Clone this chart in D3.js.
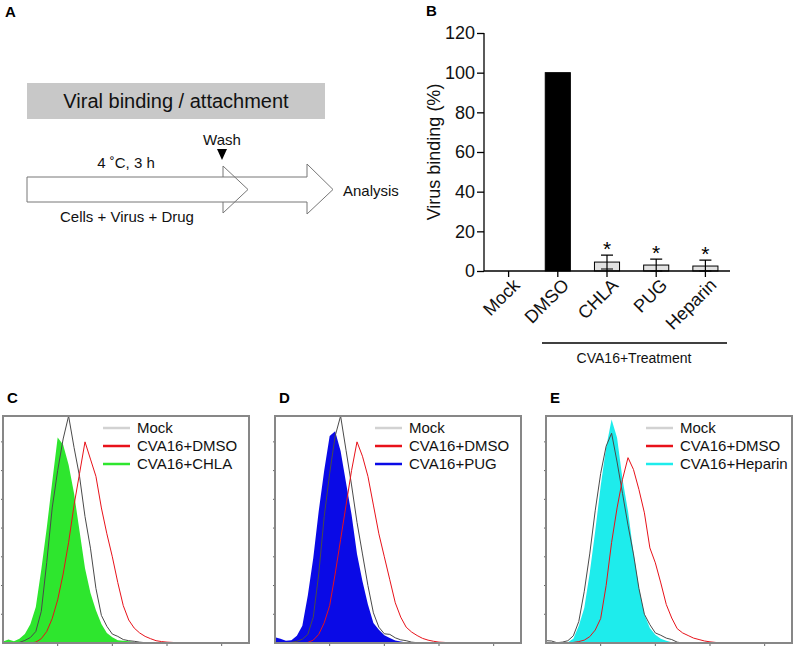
<!doctype html>
<html>
<head>
<meta charset="utf-8">
<style>
body { margin: 0; background: #fff; }
svg { font-family: Arial, "Liberation Sans", sans-serif; }
</style>
<script src="https://d3js.org/d3.v7.min.js"></script>
</head>
<body>
<svg width="800" height="649"></svg>
<script>
// ---- panel B data ----
var groups = ["Mock", "DMSO", "CHLA", "PUG", "Heparin"];
var binding = [0, 100, 4.5, 3, 2.5];
var bindingErr = [0, 0, 3.5, 3, 3];
var starred = [false, false, true, true, true];
var yTicks = [0, 20, 40, 60, 80, 100, 120];

// ---- panels C-E: histogram bins (log10 fluorescence) and counts ----
var logBins = [0, 0.1, 0.2, 0.3, 0.4, 0.5, 0.6, 0.7, 0.8, 0.9,
               1, 1.1, 1.2, 1.3, 1.4, 1.5, 1.6, 1.7, 1.8, 1.9,
               2, 2.1, 2.2, 2.3, 2.4, 2.5, 2.6, 2.7, 2.8, 2.9,
               3, 3.1, 3.2, 3.3, 3.4, 3.5, 3.6, 3.7, 3.8, 3.9,
               4, 4.1, 4.2, 4.3, 4.4, 4.5];
var histTicks = [1, 2, 3, 4];
var countTicks = [10, 20, 30, 40, 50, 60, 70];

var mockC = [0, 0, 0, 0.2, 0.9, 1.9, 4, 11, 28, 47, 60, 71, 79, 68, 58, 44, 33, 19, 9.6, 5.8,
             3.1, 2.3, 1.2, 0.8, 0.6, 0.3, 0.1, 0, 0, 0, 0, 0, 0, 0, 0, 0, 0, 0, 0, 0, 0, 0, 0, 0, 0, 0];
var dmsoC = [0, 0, 0, 0, 0, 0, 0.3, 1.5, 4, 8.5, 15, 24, 35, 48, 59, 70, 64, 58, 47, 38,
             30, 21, 13, 8, 5.2, 3.5, 2.3, 1.5, 0.8, 0.5, 0.3, 0.2, 0, 0, 0, 0, 0, 0, 0, 0, 0, 0, 0, 0, 0, 0];
var chlaC = [0.5, 1.2, 0.6, 1.5, 3.1, 6.5, 12.5, 25.5, 40, 56, 71.5, 69, 62, 52, 39, 26, 17.4, 11.4, 6.6, 3.5,
             2, 1, 0.8, 0.6, 0.35, 0.2, 0, 0, 0, 0, 0, 0, 0, 0, 0, 0, 0, 0, 0, 0, 0, 0, 0, 0, 0, 0];

var mockD = [0, 0, 0, 0.2, 0.6, 1.3, 3, 9, 24, 44, 59, 72, 79, 67, 55, 42, 31, 20, 10.5, 5.5,
             3.2, 3, 1.8, 1.1, 0.8, 0.3, 0.1, 0, 0, 0, 0, 0, 0, 0, 0, 0, 0, 0, 0, 0, 0, 0, 0, 0, 0, 0];
var dmsoD = [0, 0, 0, 0, 0, 0, 0.2, 1, 3, 7, 13, 24, 36, 48, 60, 70, 65, 58, 48, 38,
             30, 22, 14, 9, 5.5, 3.8, 2.6, 1.6, 1, 0.6, 0.3, 0.2, 0, 0, 0, 0, 0, 0, 0, 0, 0, 0, 0, 0, 0, 0];
var pugD = [2, 1.5, 0.8, 1, 2.5, 6, 16.5, 29.6, 45.9, 60, 72, 73.7, 66.8, 55.7, 44.7, 31, 21.5, 13.4, 7, 4.6,
            2.7, 1.7, 0.9, 0.5, 0.2, 0, 0, 0, 0, 0, 0, 0, 0, 0, 0, 0, 0, 0, 0, 0, 0, 0, 0, 0, 0, 0];

var mockE = [0.8, 0.7, 0.1, 0.3, 0.8, 2.5, 7.5, 18, 31, 46, 59, 68.5, 73, 63, 52, 41, 31, 19, 10, 6.4,
             3.5, 2.7, 1.7, 1.2, 0.3, 0, 0, 0, 0, 0, 0, 0, 0, 0, 0, 0, 0, 0, 0, 0, 0, 0, 0, 0, 0, 0];
var dmsoE = [0, 0, 0, 0, 0, 0.2, 0.5, 1, 2.2, 4.5, 8.5, 20, 35, 47, 57, 64.5, 60.4, 53.4, 45.3, 33.1,
             27.9, 20.9, 13.4, 8.7, 5, 3.5, 2.6, 1.7, 1.2, 0.7, 0.4, 0.2, 0, 0, 0, 0, 0, 0, 0, 0, 0, 0, 0, 0, 0, 0];
var heparinE = [0, 0, 0, 0, 0.3, 1.5, 6, 12.2, 24.4, 38.9, 54.6, 68, 77.8, 71.4, 57, 45.9, 31.4, 19.2, 9.9, 5.2,
                2.9, 1.5, 0.8, 0.3, 0, 0, 0, 0, 0, 0, 0, 0, 0, 0, 0, 0, 0, 0, 0, 0, 0, 0, 0, 0, 0, 0];

var svg = d3.select("svg");
svg.append("rect").attr("width", 800).attr("height", 649).attr("fill", "#fff");

function panelLetter(x, y, t) {
  svg.append("text").attr("x", x).attr("y", y).attr("font-size", 15)
     .attr("font-weight", "bold").text(t);
}

// ================= A : schematic =================
panelLetter(5, 17, "A");
svg.append("rect").attr("x", 27).attr("y", 83).attr("width", 298).attr("height", 36)
   .attr("fill", "#c8c8c8");
svg.append("text").attr("x", 176).attr("y", 108).attr("text-anchor", "middle")
   .attr("font-size", 20).attr("fill", "#111").text("Viral binding / attachment");

svg.append("path")
   .attr("d", "M27,177H223V166L248,189.5L223,213V202H27Z")
   .attr("fill", "#fff").attr("stroke", "#777").attr("stroke-width", 1);
svg.append("path")
   .attr("d", "M223,177H307V164L333,189.5L307,214V202H223")
   .attr("fill", "none").attr("stroke", "#777").attr("stroke-width", 1);
svg.append("path").attr("d", "M217,149L227,149L222,160Z").attr("fill", "#000");

var aText = svg.append("g").attr("font-size", 15).attr("fill", "#111");
aText.append("text").attr("x", 222).attr("y", 145).attr("text-anchor", "middle").text("Wash");
aText.append("text").attr("x", 126).attr("y", 168).attr("text-anchor", "middle").text("4 \u02daC, 3 h");
aText.append("text").attr("x", 127).attr("y", 222).attr("text-anchor", "middle").text("Cells + Virus + Drug");
aText.append("text").attr("x", 343).attr("y", 196).text("Analysis");

// ================= B : bar chart =================
panelLetter(426, 16, "B");
var xB = d3.scaleBand().domain(groups).range([484, 730]).paddingInner(0.49).paddingOuter(0.245);
var yB = d3.scaleLinear().domain([0, 120]).range([271, 33]);

var gB = svg.append("g");
gB.append("g").attr("transform", "translate(484,0)")
  .call(d3.axisLeft(yB).tickValues(yTicks).tickSize(7).tickPadding(2))
  .call(function(a) {
    a.selectAll("text").attr("font-size", 18).attr("font-family", null).attr("fill", "#111");
    a.selectAll("line, path").attr("stroke", "#000").attr("stroke-width", 1.3);
    a.select(".domain").attr("d", "M0,271V33");
  });

gB.selectAll("rect.bar").data(groups).enter().append("rect")
  .attr("class", "bar")
  .attr("x", function(d) { return xB(d); })
  .attr("width", xB.bandwidth())
  .attr("y", function(d, i) { return yB(binding[i]); })
  .attr("height", function(d, i) { return yB(0) - yB(binding[i]); })
  .attr("fill", function(d, i) { return i === 1 ? "#000" : "#e2e2e2"; })
  .attr("stroke", "#000").attr("stroke-width", 1);

// error bars
groups.forEach(function(d, i) {
  if (!bindingErr[i]) return;
  var cx = xB(d) + xB.bandwidth() / 2;
  var top = yB(binding[i] + bindingErr[i]), bot = yB(Math.max(0, binding[i] - bindingErr[i]));
  gB.append("path")
    .attr("d", "M" + cx + "," + top + "V" + yB(0) + "M" + (cx - 6) + "," + top + "H" + (cx + 6) +
               "M" + (cx - 6) + "," + bot + "H" + (cx + 6))
    .attr("stroke", "#000").attr("stroke-width", 1.2).attr("fill", "none");
  if (starred[i]) {
    gB.append("text").attr("x", cx).attr("y", top + 1).attr("text-anchor", "middle")
      .attr("font-size", 21).text("*");
  }
});

// x axis (line + ticks + rotated labels)
gB.append("line").attr("x1", 484).attr("x2", 730).attr("y1", 271).attr("y2", 271)
  .attr("stroke", "#000").attr("stroke-width", 1.3);
groups.forEach(function(d) {
  var cx = xB(d) + xB.bandwidth() / 2;
  gB.append("line").attr("x1", cx).attr("x2", cx).attr("y1", 271).attr("y2", 277)
    .attr("stroke", "#000").attr("stroke-width", 1.3);
  gB.append("text")
    .attr("transform", "translate(" + (cx + 4) + ",278) rotate(-45)")
    .attr("text-anchor", "end").attr("dy", "0.65em")
    .attr("font-size", 18).attr("fill", "#111").text(d);
});

gB.append("text").attr("transform", "translate(440,152) rotate(-90)")
  .attr("text-anchor", "middle").attr("font-size", 18).attr("fill", "#111")
  .text("Virus binding (%)");

gB.append("line").attr("x1", 542).attr("x2", 727).attr("y1", 343).attr("y2", 343)
  .attr("stroke", "#000").attr("stroke-width", 1.5);
gB.append("text").attr("x", 634).attr("y", 363).attr("text-anchor", "middle")
  .attr("font-size", 14).attr("fill", "#111").text("CVA16+Treatment");

// ================= C, D, E : histograms =================
var frameW = 246, frameH = 227, frameTop = 416;
var xH = d3.scaleLinear().domain([0, 4.5]).range([0, frameW]);
var yH = d3.scaleLinear().domain([0, 79]).range([frameH, 0]);

var line = d3.line().x(function(d, i) { return xH(logBins[i]); }).y(function(d) { return yH(d); });
var area = d3.area().x(function(d, i) { return xH(logBins[i]); }).y0(yH(0)).y1(function(d) { return yH(d); });

function histPanel(x0, letter, treatName, treatColor, mock, dmso, treat) {
  panelLetter(x0 + 4, frameTop - 13, letter);
  var g = svg.append("g").attr("transform", "translate(" + x0 + "," + frameTop + ")");
  var clipId = "clip-" + letter;
  g.append("clipPath").attr("id", clipId).append("rect")
    .attr("width", frameW).attr("height", frameH);

  var plot = g.append("g").attr("clip-path", "url(#" + clipId + ")");
  plot.append("path").datum(treat).attr("d", area).attr("fill", treatColor);
  plot.append("path").datum(mock).attr("d", line)
    .attr("fill", "none").attr("stroke", "#4a4a4a").attr("stroke-width", 1);
  plot.append("path").datum(dmso).attr("d", line)
    .attr("fill", "none").attr("stroke", "#e8121a").attr("stroke-width", 1);

  // ticks
  g.selectAll("line.bt").data(histTicks).enter().append("line").attr("class", "bt")
    .attr("x1", function(d) { return xH(d); }).attr("x2", function(d) { return xH(d); })
    .attr("y1", frameH).attr("y2", frameH + 3).attr("stroke", "#666");
  g.selectAll("line.lt").data(countTicks).enter().append("line").attr("class", "lt")
    .attr("y1", function(d) { return yH(d); }).attr("y2", function(d) { return yH(d); })
    .attr("x1", -2).attr("x2", 1).attr("stroke", "#666");

  g.append("rect").attr("width", frameW).attr("height", frameH)
    .attr("fill", "none").attr("stroke", "#878787").attr("stroke-width", 2);

  // legend
  var names = ["Mock", "CVA16+DMSO", treatName];
  var cols = ["#d2d2d2", "#e8121a", treatColor];
  var lg = g.selectAll("g.leg").data(names).enter().append("g").attr("class", "leg")
    .attr("transform", function(d, i) { return "translate(100," + (12 + i * 18) + ")"; });
  lg.append("line").attr("x1", 0).attr("x2", 27)
    .attr("stroke", function(d, i) { return cols[i]; }).attr("stroke-width", 2.5);
  lg.append("text").attr("x", 34).attr("dy", "0.35em").attr("font-size", 15).attr("fill", "#111")
    .text(function(d) { return d; });
}

histPanel(3, "C", "CVA16+CHLA", "#2ee62e", mockC, dmsoC, chlaC);
histPanel(275, "D", "CVA16+PUG", "#0a0ae6", mockD, dmsoD, pugD);
histPanel(546, "E", "CVA16+Heparin", "#1eecec", mockE, dmsoE, heparinE);
</script>
</body>
</html>
